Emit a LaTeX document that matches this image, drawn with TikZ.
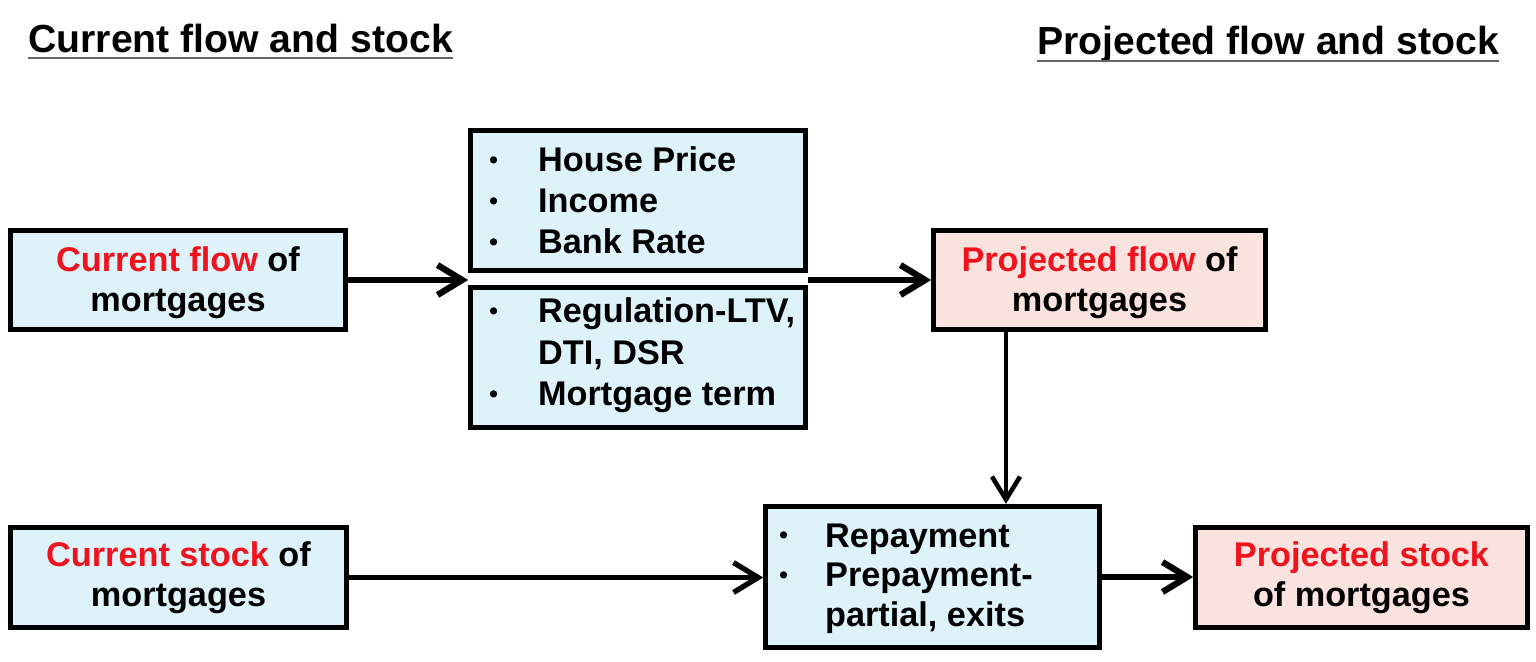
\documentclass[tikz,border=0pt]{standalone}
\usepackage{fontspec}
\setmainfont{Liberation Sans}
\usetikzlibrary{arrows.meta}
\newdimen\px \px=0.56693pt
\definecolor{bfill}{RGB}{221,242,249}
\definecolor{pfill}{RGB}{250,226,222}
\definecolor{hred}{RGB}{240,18,28}
\newcommand\sbul{\hspace*{2\px}\raisebox{1.9pt}{\fontsize{14}{14}\selectfont •}}
\newcommand\blt{\makebox[51\px][l]{\sbul}}
\newcommand\bltb{\makebox[48\px][l]{\sbul}}
\newcommand\tstrut{\rule{0pt}{31\px}}
\begin{document}
\begin{tikzpicture}[x=0.02cm,y=-0.02cm,
  box/.style={draw=black, line width=2.8pt, inner sep=0pt, align=center,
    font=\fontsize{19.5}{22.7}\selectfont\bfseries},
  bluebox/.style={box, fill=bfill},
  pinkbox/.style={box, fill=pfill},
  listtext/.style={inner sep=0pt, anchor=base west, align=left},
  heading/.style={inner sep=0pt, anchor=base west, font=\fontsize{22.3}{26}\selectfont\bfseries},
  uline/.style={line width=1.3pt, draw=black!60},
  arr/.style={line width=3.6pt, -{Straight Barb[length=14pt,width=17pt]}},
  tarr/.style={line width=3pt, -{Straight Barb[length=14pt,width=17pt]}},
  varr/.style={line width=2.6pt, -{Straight Barb[length=13pt,width=16pt]}}
]
\useasboundingbox (0,0) rectangle (1536,662);

% headings
\node[heading] (h1) at (28,53) {Current flow and stock};
\node[heading] (h2) at (1037,55) {Projected flow and stock};
\draw[uline] ([yshift=-2.9pt]h1.base west) -- ([yshift=-2.9pt]h1.base east);
\draw[uline] ([yshift=-3.3pt]h2.base west) -- ([yshift=-3.3pt]h2.base east);

% boxes
\node[bluebox, minimum width=336\px, minimum height=100\px] (cf) at (178,280)
  {\tstrut{\color{hred}Current flow} of\\mortgages};
\node[bluebox, minimum width=336\px, minimum height=141\px] (tb) at (638,200.5) {};
\node[bluebox, minimum width=336\px, minimum height=141\px] (lb) at (638,357.5) {};
\node[pinkbox, minimum width=333\px, minimum height=100\px] (pf) at (1099.5,280)
  {\tstrut{\color{hred}Projected flow} of\\mortgages};
\node[bluebox, minimum width=337\px, minimum height=101\px] (cs) at (178.5,577.5)
  {{\color{hred}Current stock} of\\mortgages};
\node[bluebox, minimum width=335\px, minimum height=142\px] (mb) at (932.5,577) {};
\node[pinkbox, minimum width=333\px, minimum height=101\px] (ps) at (1361.5,577.5)
  {{\color{hred}Projected stock}\\of mortgages};

% list texts
\node[listtext, font=\fontsize{19.5}{23.3}\selectfont\bfseries] (tbt) at (487,172)
  {\begin{tabular}[t]{@{}l@{}}\blt House Price\\ \blt Income\\ \blt Bank Rate\end{tabular}};
\node[listtext, font=\fontsize{19.5}{23.6}\selectfont\bfseries] (lbt) at (487,323)
  {\begin{tabular}[t]{@{}l@{}}\blt Regulation-LTV,\\ \hspace*{51\px}DTI, DSR\\ \blt Mortgage term\end{tabular}};
\node[listtext, font=\fontsize{19.5}{22.7}\selectfont\bfseries] (mbt) at (777,547)
  {\begin{tabular}[t]{@{}l@{}}\bltb Repayment\\ \bltb Prepayment-\\ \hspace*{48\px}partial, exits\end{tabular}};

% connectors
\coordinate (vx) at (1006,0);
\draw[arr] (cf.east) -- (cf.east -| tb.west);
\draw[arr] (pf.west -| tb.east) -- (pf.west);
\draw[varr] (pf.south -| vx) -- (mb.north -| vx);
\draw[tarr] (cs.east) -- (cs.east -| mb.west);
\draw[arr] (mb.east) -- (mb.east -| ps.west);
\end{tikzpicture}
\end{document}
